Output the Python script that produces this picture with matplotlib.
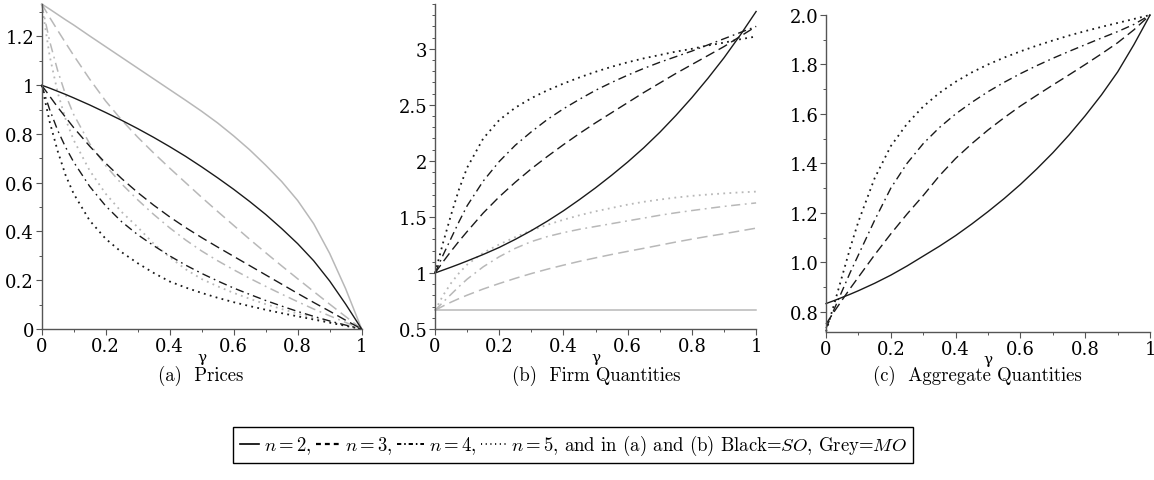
import matplotlib
matplotlib.use("Agg")
import matplotlib.pyplot as plt
from matplotlib.ticker import MultipleLocator, FixedLocator
from matplotlib.offsetbox import DrawingArea, TextArea, HPacker, AnchoredOffsetbox
from matplotlib.lines import Line2D

plt.rcParams['mathtext.fontset'] = 'cm'

# values
gamma = [0, 0.025, 0.05, 0.075, 0.1, 0.15, 0.2, 0.25, 0.3, 0.35, 0.4, 0.45,
         0.5, 0.55, 0.6, 0.65, 0.7, 0.75, 0.8, 0.85, 0.9, 0.95, 1.0]

# (a) prices, black = SO, grey = MO
price_so_n2 = [1.0, 0.988, 0.975, 0.962, 0.948, 0.919, 0.888, 0.856, 0.822, 0.786, 0.748, 0.708,
               0.665, 0.620, 0.573, 0.523, 0.470, 0.412, 0.350, 0.280, 0.197, 0.102, 0.0]
price_so_n3 = [1.0, 0.955, 0.91, 0.868, 0.826, 0.75, 0.68, 0.617, 0.56, 0.508, 0.46, 0.416,
               0.375, 0.336, 0.298, 0.26, 0.222, 0.184, 0.146, 0.109, 0.073, 0.036, 0.0]
price_so_n4 = [1.0, 0.90, 0.815, 0.745, 0.685, 0.585, 0.505, 0.44, 0.387, 0.342, 0.300, 0.262,
               0.228, 0.197, 0.168, 0.142, 0.117, 0.094, 0.072, 0.052, 0.033, 0.016, 0.0]
price_so_n5 = [1.0, 0.85, 0.73, 0.63, 0.555, 0.445, 0.37, 0.315, 0.27, 0.23, 0.195, 0.17,
               0.148, 0.128, 0.11, 0.094, 0.079, 0.065, 0.052, 0.039, 0.026, 0.013, 0.0]
price_mo_n2 = [1.333, 1.312, 1.290, 1.268, 1.247, 1.202, 1.158, 1.114, 1.070, 1.026, 0.982, 0.938,
               0.893, 0.845, 0.792, 0.735, 0.672, 0.605, 0.527, 0.432, 0.310, 0.165, 0.0]
price_mo_n3 = [1.333, 1.278, 1.225, 1.173, 1.122, 1.025, 0.935, 0.857, 0.787, 0.722, 0.66, 0.60,
               0.54, 0.482, 0.425, 0.368, 0.313, 0.259, 0.206, 0.154, 0.102, 0.051, 0.0]
price_mo_n4 = [1.333, 1.18, 1.06, 0.96, 0.88, 0.76, 0.67, 0.595, 0.53, 0.47, 0.415, 0.365,
               0.32, 0.28, 0.243, 0.208, 0.175, 0.143, 0.112, 0.082, 0.054, 0.027, 0.0]
price_mo_n5 = [1.333, 1.12, 0.97, 0.86, 0.775, 0.65, 0.555, 0.48, 0.418, 0.35, 0.295, 0.245,
               0.205, 0.175, 0.148, 0.124, 0.102, 0.082, 0.063, 0.045, 0.029, 0.014, 0.0]

# (b) firm quantities
firm_so_n2 = [1.0, 1.026, 1.052, 1.079, 1.107, 1.165, 1.228, 1.30, 1.378, 1.463, 1.555, 1.655,
              1.76, 1.872, 1.99, 2.117, 2.255, 2.405, 2.565, 2.737, 2.92, 3.12, 3.333]
firm_so_n3 = [1.0, 1.10, 1.195, 1.285, 1.37, 1.535, 1.68, 1.81, 1.93, 2.04, 2.145, 2.245,
              2.34, 2.43, 2.52, 2.61, 2.695, 2.78, 2.86, 2.94, 3.02, 3.11, 3.2]
firm_so_n4 = [1.0, 1.16, 1.31, 1.46, 1.60, 1.82, 1.995, 2.14, 2.26, 2.37, 2.465, 2.55,
              2.63, 2.70, 2.765, 2.825, 2.88, 2.93, 2.98, 3.035, 3.09, 3.145, 3.2]
firm_so_n5 = [1.0, 1.27, 1.52, 1.75, 1.94, 2.20, 2.365, 2.475, 2.56, 2.63, 2.69, 2.745,
              2.795, 2.84, 2.88, 2.915, 2.945, 2.975, 3.0, 3.03, 3.055, 3.085, 3.11]
firm_mo_n2 = [0.667] * len(gamma)
firm_mo_n3 = [0.667, 0.705, 0.74, 0.772, 0.802, 0.857, 0.906, 0.952, 0.995, 1.034, 1.07, 1.104,
              1.135, 1.165, 1.193, 1.22, 1.248, 1.276, 1.302, 1.327, 1.35, 1.375, 1.40]
firm_mo_n4 = [0.667, 0.74, 0.81, 0.88, 0.945, 1.055, 1.145, 1.22, 1.28, 1.325, 1.36, 1.39,
              1.415, 1.44, 1.465, 1.49, 1.515, 1.537, 1.557, 1.576, 1.594, 1.61, 1.625]
firm_mo_n5 = [0.667, 0.80, 0.91, 1.0, 1.075, 1.18, 1.255, 1.32, 1.38, 1.43, 1.475, 1.515,
              1.55, 1.58, 1.61, 1.635, 1.655, 1.673, 1.688, 1.70, 1.71, 1.719, 1.726]

# (c) aggregate quantities
agg_n2 = [0.833, 0.845, 0.858, 0.871, 0.885, 0.915, 0.948, 0.985, 1.025, 1.065, 1.108, 1.155,
          1.205, 1.258, 1.315, 1.377, 1.443, 1.515, 1.593, 1.677, 1.77, 1.88, 2.0]
agg_n3 = [0.75, 0.80, 0.848, 0.895, 0.94, 1.03, 1.115, 1.195, 1.27, 1.35, 1.42, 1.48,
          1.535, 1.585, 1.632, 1.675, 1.717, 1.758, 1.80, 1.843, 1.888, 1.94, 2.0]
agg_n4 = [0.733, 0.81, 0.885, 0.96, 1.03, 1.17, 1.30, 1.40, 1.48, 1.545, 1.60, 1.647,
          1.69, 1.728, 1.763, 1.795, 1.825, 1.853, 1.88, 1.907, 1.933, 1.962, 2.0]
agg_n5 = [0.72, 0.83, 0.945, 1.06, 1.165, 1.34, 1.47, 1.56, 1.63, 1.685, 1.73, 1.768,
          1.80, 1.828, 1.853, 1.876, 1.897, 1.917, 1.935, 1.952, 1.968, 1.984, 2.0]

xticks = [0, 0.2, 0.4, 0.6, 0.8, 1.0]
xticklabels = ['0', '0.2', '0.4', '0.6', '0.8', '1']
yticks_a = [0, 0.2, 0.4, 0.6, 0.8, 1.0, 1.2]
yticklabels_a = ['0', '0.2', '0.4', '0.6', '0.8', '1', '1.2']
yticks_b = [0.5, 1, 1.5, 2, 2.5, 3]
yticklabels_b = ['0.5', '1', '1.5', '2', '2.5', '3']
yticks_c = [0.8, 1.0, 1.2, 1.4, 1.6, 1.8, 2.0]
yticklabels_c = ['0.8', '1.0', '1.2', '1.4', '1.6', '1.8', '2.0']
captions = ['(a)  Prices', '(b)  Firm Quantities', '(c)  Aggregate Quantities']
caption_x = [0.1742, 0.5165, 0.8466]

black = '#1a1a1a'
grey = '#b8b8b8'
ls_n2 = '-'
ls_n3 = (0, (7, 3.5))
ls_n4 = (0, (6, 3, 1.2, 3))
ls_n5 = (0, (1, 2.4))

fig = plt.figure(figsize=(11.54, 4.81), dpi=100)
ax_a = fig.add_axes([0.0361, 0.3139, 0.2773, 0.6757])
ax_b = fig.add_axes([0.3770, 0.3139, 0.2782, 0.6757])
ax_c = fig.add_axes([0.7158, 0.3077, 0.2808, 0.659])

tick_font = {'family': 'DejaVu Serif', 'size': 13}
cap_font = ['cmr10', 'DejaVu Serif']


def style_axes(ax, ylim, yticks, yticklabels, yminor):
    ax.set_xlim(0, 1)
    ax.set_ylim(*ylim)
    for s in ['top', 'right']:
        ax.spines[s].set_visible(False)
    for s in ['left', 'bottom']:
        ax.spines[s].set_color('#555555')
        ax.spines[s].set_linewidth(1.0)
    ax.xaxis.set_major_locator(FixedLocator(xticks))
    ax.set_xticklabels(xticklabels, fontdict=tick_font)
    ax.xaxis.set_minor_locator(MultipleLocator(0.1))
    ax.yaxis.set_major_locator(FixedLocator(yticks))
    ax.set_yticklabels(yticklabels, fontdict=tick_font)
    ax.yaxis.set_minor_locator(MultipleLocator(yminor))
    ax.tick_params(which='major', length=4, width=0.8, color='#555555', pad=1.5)
    ax.tick_params(which='minor', length=2.5, width=0.7, color='#555555')
    ax.text(0.5, -0.085, 'γ', transform=ax.transAxes, ha='center', va='center',
            family='DejaVu Serif', fontsize=11)


def draw(ax, y, color, ls, lw):
    ax.plot(gamma, y, color=color, linestyle=ls, linewidth=lw, clip_on=False)


# (a)
draw(ax_a, price_mo_n2, grey, ls_n2, 1.1)
draw(ax_a, price_mo_n3, grey, ls_n3, 1.1)
draw(ax_a, price_mo_n4, grey, ls_n4, 1.1)
draw(ax_a, price_mo_n5, grey, ls_n5, 1.3)
draw(ax_a, price_so_n2, black, ls_n2, 1.0)
draw(ax_a, price_so_n3, black, ls_n3, 1.0)
draw(ax_a, price_so_n4, black, ls_n4, 1.0)
draw(ax_a, price_so_n5, black, ls_n5, 1.3)
style_axes(ax_a, (0, 1.333), yticks_a, yticklabels_a, 0.1)

# (b)
draw(ax_b, firm_mo_n2, grey, ls_n2, 1.1)
draw(ax_b, firm_mo_n3, grey, ls_n3, 1.1)
draw(ax_b, firm_mo_n4, grey, ls_n4, 1.1)
draw(ax_b, firm_mo_n5, grey, ls_n5, 1.3)
draw(ax_b, firm_so_n2, black, ls_n2, 1.0)
draw(ax_b, firm_so_n3, black, ls_n3, 1.0)
draw(ax_b, firm_so_n4, black, ls_n4, 1.0)
draw(ax_b, firm_so_n5, black, ls_n5, 1.3)
style_axes(ax_b, (0.5, 3.4), yticks_b, yticklabels_b, 0.1)

# (c)
draw(ax_c, agg_n2, black, ls_n2, 1.0)
draw(ax_c, agg_n3, black, ls_n3, 1.0)
draw(ax_c, agg_n4, black, ls_n4, 1.0)
draw(ax_c, agg_n5, black, ls_n5, 1.3)
style_axes(ax_c, (0.718, 2.0), yticks_c, yticklabels_c, 0.1)

for cx, cap in zip(caption_x, captions):
    fig.text(cx, 0.218, cap, ha='center', va='center', family=cap_font, fontsize=13.5)

# legend line: short line samples followed by text
txt_props = dict(family=cap_font, fontsize=13.5)


def sample(width, ls, lw):
    da = DrawingArea(width, 8, 0, 0)
    da.add_artist(Line2D([0.5, width - 0.5], [4, 4], color='black', linestyle=ls, linewidth=lw))
    return da


parts = [
    sample(15, '-', 1.2), TextArea('$n = 2$,', textprops=txt_props),
    sample(18, (0, (2.2, 1.8)), 1.6), TextArea('$n = 3$,', textprops=txt_props),
    sample(20, (0, (2.2, 1.5, 0.8, 1.5)), 1.4), TextArea('$n = 4$,', textprops=txt_props),
    sample(19, (0, (0.6, 2.0)), 1.3),
    TextArea('$n = 5$, and in (a) and (b) Black=$SO$, Grey=$MO$', textprops=txt_props),
]
row = HPacker(children=parts, align='baseline', pad=0, sep=3)
legend_box = AnchoredOffsetbox(loc='center', child=row, pad=0.45, borderpad=0, frameon=True,
                               bbox_to_anchor=(0.4965, 0.0728), bbox_transform=fig.transFigure)
legend_box.patch.set_edgecolor('black')
legend_box.patch.set_linewidth(1.0)
fig.add_artist(legend_box)

fig.savefig('out.png', dpi=100)
